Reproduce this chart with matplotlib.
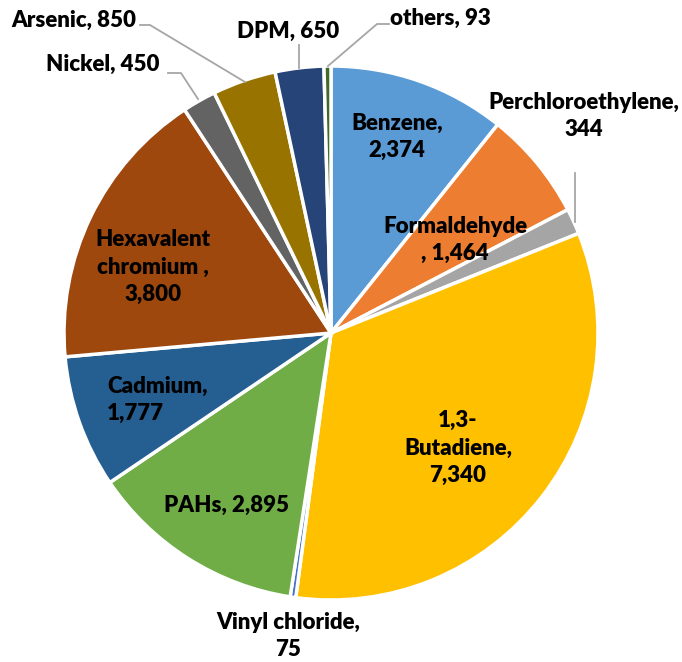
import numpy as np
import matplotlib
matplotlib.use("Agg")
import matplotlib.pyplot as plt

# data, clockwise from 12 o'clock
categories = ["Benzene", "Formaldehyde", "Perchloroethylene", "1,3-Butadiene",
              "Vinyl chloride", "PAHs", "Cadmium", "Hexavalent chromium",
              "Nickel", "Arsenic", "DPM", "others"]
values = [2374, 1464, 344, 7340, 75, 2895, 1777, 3800, 450, 850, 650, 93]
label_texts = ["Benzene,\n2,374", "Formaldehyde\n, 1,464", "Perchloroethylene,\n344",
               "1,3-\nButadiene,\n7,340", "Vinyl chloride,\n75", "PAHs, 2,895",
               "Cadmium,\n1,777", "Hexavalent\nchromium ,\n3,800", "Nickel, 450",
               "Arsenic, 850", "DPM, 650", "others, 93"]
colors = ["#5B9BD5", "#ED7D31", "#A5A5A5", "#FFC000", "#4472C4", "#70AD47",
          "#255E91", "#9E480E", "#636363", "#997300", "#264478", "#43682B"]

W, H = 682, 662
fig = plt.figure(figsize=(W / 100, H / 100), dpi=100)
ax = fig.add_axes([0, 0, 1, 1])

cx, cy, r = 331, H - 333, 267
wedges, _ = ax.pie(values, colors=colors, startangle=90, counterclock=False,
                   center=(cx, cy), radius=r, frame=True,
                   wedgeprops=dict(edgecolor="white", linewidth=2.5))
ax.set_xlim(0, W)
ax.set_ylim(0, H)
ax.set_aspect("equal")
ax.axis("off")

font = dict(family=["Lato", "DejaVu Sans"], fontweight="heavy", fontsize=16,
            color="black", linespacing=1.38)

# label placement (pixel coords from top-left)
label_pos = {
    "Benzene": (397, 137, "center"),
    "Formaldehyde": (455, 240, "center"),
    "Perchloroethylene": (584, 116, "center"),
    "1,3-Butadiene": (458, 448, "center"),
    "Vinyl chloride": (288, 636, "center"),
    "PAHs": (227, 505, "center"),
    "Cadmium": (107, 400, "left"),
    "Hexavalent chromium": (153, 267, "center"),
    "Nickel": (103, 64, "center"),
    "Arsenic": (74, 20, "center"),
    "DPM": (288, 31, "center"),
    "others": (440, 18, "center"),
}
for name, txt in zip(categories, label_texts):
    x, y, ha = label_pos[name]
    ax.text(x, H - y, txt, ha=ha, va="center", multialignment=ha, **font)

# leader lines for small outside labels
leaders = {
    "Perchloroethylene": [(575, 173), (575, 222)],
    "Nickel": [(168, 73), (181, 73), (198, 99)],
    "Arsenic": [(140, 25), (150, 25), (245, 82)],
    "DPM": [(299, 45), (299, 68)],
    "others": [(389, 24), (377, 24), (328, 66)],
}
for pts in leaders.values():
    xs = [p[0] for p in pts]
    ys = [H - p[1] for p in pts]
    ax.plot(xs, ys, color="#A6A6A6", lw=1.3)

fig.savefig("out.png", dpi=100, facecolor="white")
